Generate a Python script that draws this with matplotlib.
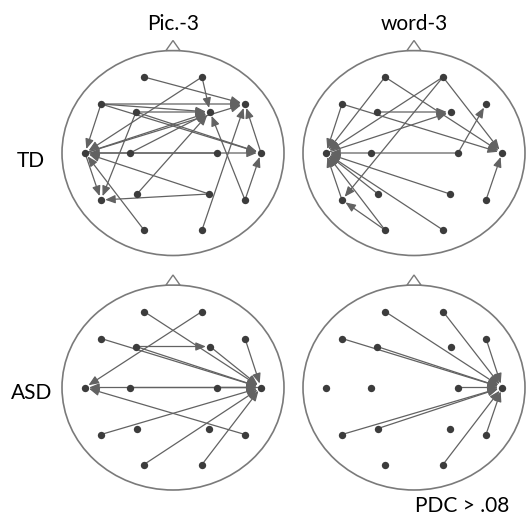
import matplotlib
matplotlib.use("Agg")
import matplotlib.pyplot as plt
from matplotlib.patches import Ellipse, Polygon

# electrode layout (offsets from head centre, screen units, y down)
names = ["Fp1", "Fp2", "F7", "F3", "F4", "F8", "T3", "C3", "C4", "T4",
         "T5", "P3", "P4", "T6", "O1", "O2"]
ex = [-29, 29, -72, -37, 37, 72, -88, -43, 44, 88, -72, -36, 36, 72, -29, 29]
ey = [-76, -76, -49, -41, -41, -49, 0, 0, 0, 0, 47, 41, 41, 47, 77, 77]

col_titles = ["Pic.-3", "word-3"]
row_titles = ["TD", "ASD"]

# directed connections (source, target) with PDC > .08
td_pic = [("Fp1", "F8"), ("Fp2", "T3"), ("Fp2", "F4"), ("F7", "F8"), ("F7", "F4"),
          ("F7", "T4"), ("F7", "T3"), ("F3", "F4"), ("F3", "T4"), ("F3", "T5"),
          ("T3", "F8"), ("T3", "F4"), ("T3", "T4"), ("C3", "F4"), ("T4", "F8"),
          ("T6", "F4"), ("T6", "T4"), ("P3", "F4"), ("P4", "T3"), ("P4", "T5"),
          ("O1", "T3"), ("O2", "F8"), ("T3", "T5"), ("C4", "T3")]
td_word = [("Fp1", "T3"), ("Fp1", "T4"), ("Fp2", "T3"), ("Fp2", "T5"), ("Fp2", "T4"),
           ("F7", "T3"), ("F7", "T4"), ("F3", "F4"), ("T3", "F4"), ("C4", "T3"),
           ("C4", "F8"), ("T6", "T4"), ("P3", "T3"), ("P4", "T3"), ("O1", "T3"),
           ("O2", "T3"), ("T5", "T3"), ("O1", "T5")]
asd_pic = [("Fp1", "T4"), ("F4", "T4"), ("Fp2", "T3"), ("F7", "T4"), ("F3", "F4"),
           ("F3", "T4"), ("T4", "T3"), ("T6", "T3"), ("C3", "T4"), ("C4", "T4"),
           ("T5", "T4"), ("O1", "T4"), ("O2", "T4"), ("F8", "T4")]
asd_word = [("Fp1", "T4"), ("Fp2", "T4"), ("F8", "T4"), ("F7", "T4"), ("F3", "T4"),
            ("C4", "T4"), ("T5", "T4"), ("P3", "T4"), ("T6", "T4"), ("O2", "T4")]

panels = [[td_pic, td_word], [asd_pic, asd_word]]
centers_x = [173, 414]
centers_y = [153, 387.5]

fig = plt.figure(figsize=(5.26, 5.18), dpi=100)
ax = fig.add_axes([0, 0, 1, 1])
ax.set_xlim(0, 526)
ax.set_ylim(518, 0)
ax.axis("off")

pos = {n: (x, y) for n, x, y in zip(names, ex, ey)}
font = ["Lato", "DejaVu Sans"]

for r in range(2):
    for c in range(2):
        cx, cy = centers_x[c], centers_y[r]
        ax.add_patch(Ellipse((cx, cy), 222, 205, fill=False, ec="#7a7a7a", lw=1.2, zorder=1))
        top = cy - 102.5
        ax.add_patch(Polygon([(cx - 7, top), (cx, top - 10), (cx + 7, top)], closed=True,
                             fc="white", ec="#7a7a7a", lw=1.0, zorder=1))
        for s, t in panels[r][c]:
            sx, sy = pos[s]
            tx, ty = pos[t]
            ax.annotate("", xy=(cx + tx, cy + ty), xytext=(cx + sx, cy + sy),
                        arrowprops=dict(arrowstyle="-|>,head_length=0.6,head_width=0.25",
                                        color="#626262", lw=0.9, shrinkA=0, shrinkB=3,
                                        mutation_scale=10), zorder=2)
        ax.scatter([cx + x for x in ex], [cy + y for y in ey], s=28, color="#3c3c3c",
                   lw=0, zorder=3)

for c in range(2):
    ax.text(centers_x[c], 30, col_titles[c], ha="center", va="baseline",
            fontsize=15, family=font)
ax.text(31, 167, row_titles[0], ha="center", va="baseline", fontsize=15, family=font)
ax.text(32, 399, row_titles[1], ha="center", va="baseline", fontsize=15, family=font)
ax.text(462, 512, "PDC > .08", ha="center", va="baseline", fontsize=15, family=font)

fig.savefig("out.png", dpi=100)
